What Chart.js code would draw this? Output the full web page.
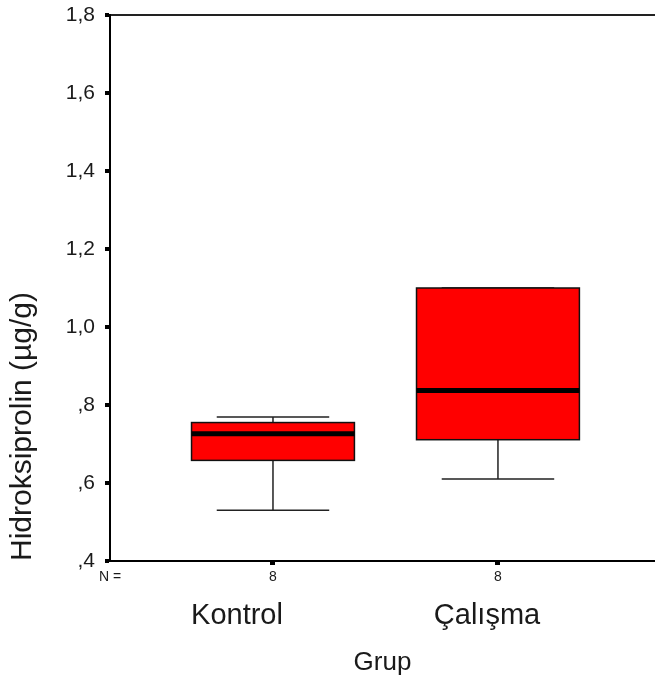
<!DOCTYPE html>
<html>
<head>
<meta charset="utf-8">
<script src="https://cdn.jsdelivr.net/npm/chart.js@4.4.0/dist/chart.umd.min.js"></script>
<style>
  html, body { margin: 0; padding: 0; background: #fff; }
  #wrap { width: 655px; height: 686px; }
</style>
</head>
<body>
<div id="wrap"><canvas id="boxChart"></canvas></div>
<script>
// data
const groups = ['Kontrol', 'Çalışma'];
const groupPos = [1, 2];
const nValues = [8, 8];
const minValues = [0.53, 0.61];
const q1Values = [0.658, 0.711];
const medianValues = [0.726, 0.837];
const q3Values = [0.755, 1.10];
const maxValues = [0.769, 1.10];
const yTicks = [0.4, 0.6, 0.8, 1.0, 1.2, 1.4, 1.6, 1.8];

const FONT = "'Liberation Sans', Arial, sans-serif";
const TEXT = '#1a1a1a';
const BOX_HALF = 0.362;
const CAP_HALF = 0.25;

function fmtTick(v) {
    const s = v.toFixed(1).replace('.', ',');
    return s.startsWith('0') ? s.slice(1) : s;
}

// draws whiskers, boxes and medians with the chart scales
const boxPlugin = {
    id: 'spssBoxes',
    afterDatasetsDraw(chart) {
        const { ctx, scales: { x, y } } = chart;
        ctx.save();
        groupPos.forEach((pos, i) => {
            const cx = x.getPixelForValue(pos);
            const bl = x.getPixelForValue(pos - BOX_HALF);
            const br = x.getPixelForValue(pos + BOX_HALF);
            const cl = x.getPixelForValue(pos - CAP_HALF);
            const cr = x.getPixelForValue(pos + CAP_HALF);
            const yMin = y.getPixelForValue(minValues[i]);
            const yQ1 = y.getPixelForValue(q1Values[i]);
            const yMed = y.getPixelForValue(medianValues[i]);
            const yQ3 = y.getPixelForValue(q3Values[i]);
            const yMax = y.getPixelForValue(maxValues[i]);

            // whiskers + caps
            ctx.strokeStyle = '#222';
            ctx.lineWidth = 1.5;
            ctx.beginPath();
            ctx.moveTo(cx, yQ1); ctx.lineTo(cx, yMin);
            ctx.moveTo(cl, yMin); ctx.lineTo(cr, yMin);
            ctx.moveTo(cx, yQ3); ctx.lineTo(cx, yMax);
            ctx.moveTo(cl, yMax); ctx.lineTo(cr, yMax);
            ctx.stroke();

            // box
            ctx.fillStyle = '#ff0000';
            ctx.fillRect(bl, yQ3, br - bl, yQ1 - yQ3);
            ctx.strokeStyle = '#111';
            ctx.lineWidth = 1.5;
            ctx.strokeRect(bl, yQ3, br - bl, yQ1 - yQ3);

            // median
            ctx.strokeStyle = '#000';
            ctx.lineWidth = 5;
            ctx.beginPath();
            ctx.moveTo(bl, yMed); ctx.lineTo(br, yMed);
            ctx.stroke();
        });
        ctx.restore();
    }
};

const X_MIN = 0.2756, X_MAX = 2.698;

new Chart(document.getElementById('boxChart').getContext('2d'), {
    type: 'scatter',
    data: { datasets: [] },
    plugins: [boxPlugin],
    options: {
        responsive: true,
        maintainAspectRatio: false,
        animation: false,
        layout: { padding: { top: 15, left: 0, right: 0, bottom: 0 } },
        plugins: { legend: { display: false }, tooltip: { enabled: false } },
        scales: {
            y: {
                type: 'linear',
                position: 'left',
                min: 0.4,
                max: 1.8,
                afterBuildTicks: s => { s.ticks = yTicks.map(v => ({ value: v })); },
                afterFit: s => { s.width = 110; s.paddingTop = 0; s.paddingBottom = 0; },
                ticks: {
                    callback: v => fmtTick(v),
                    color: TEXT,
                    font: { family: FONT, size: 21 },
                    padding: 10
                },
                grid: {
                    color: c => (c.tick && c.tick.value === 1.8 ? '#222' : 'rgba(0,0,0,0)'),
                    lineWidth: 2,
                    tickColor: '#000',
                    tickLength: 5,
                    tickWidth: 4
                },
                border: { display: true, color: '#000', width: 2 },
                title: {
                    display: true,
                    text: 'Hidroksiprolin (µg/g)',
                    align: 'start',
                    color: TEXT,
                    font: { family: FONT, size: 30 },
                    padding: { top: 5, bottom: 0 }
                }
            },
            x: {
                type: 'linear',
                position: 'bottom',
                min: X_MIN,
                max: X_MAX,
                afterBuildTicks: s => { s.ticks = [{ value: X_MIN }].concat(groupPos.map(v => ({ value: v }))); },
                afterFit: s => { s.height = 30; },
                ticks: {
                    autoSkip: false,
                    maxRotation: 0,
                    callback: (v, i) => (i === 0 ? 'N =' : String(nValues[i - 1])),
                    color: TEXT,
                    font: { family: FONT, size: 14 },
                    padding: 4
                },
                grid: {
                    drawOnChartArea: false,
                    tickColor: c => (c.index === 0 ? 'rgba(0,0,0,0)' : '#000'),
                    tickLength: 4,
                    tickWidth: 5
                },
                border: { display: true, color: '#000', width: 2 }
            },
            names: {
                type: 'linear',
                position: 'bottom',
                min: 0.492,
                max: 2.672,
                afterBuildTicks: s => { s.ticks = groupPos.map(v => ({ value: v })); },
                afterFit: s => { s.height = 95; },
                ticks: {
                    autoSkip: false,
                    maxRotation: 0,
                    callback: (v, i) => groups[i],
                    color: TEXT,
                    font: { family: FONT, size: 29 },
                    padding: 8
                },
                grid: { display: false, drawTicks: false },
                border: { display: false },
                title: {
                    display: true,
                    text: 'Grup',
                    color: TEXT,
                    font: { family: FONT, size: 26 },
                    padding: { top: 0, bottom: 8 }
                }
            }
        }
    }
});
</script>
</body>
</html>
